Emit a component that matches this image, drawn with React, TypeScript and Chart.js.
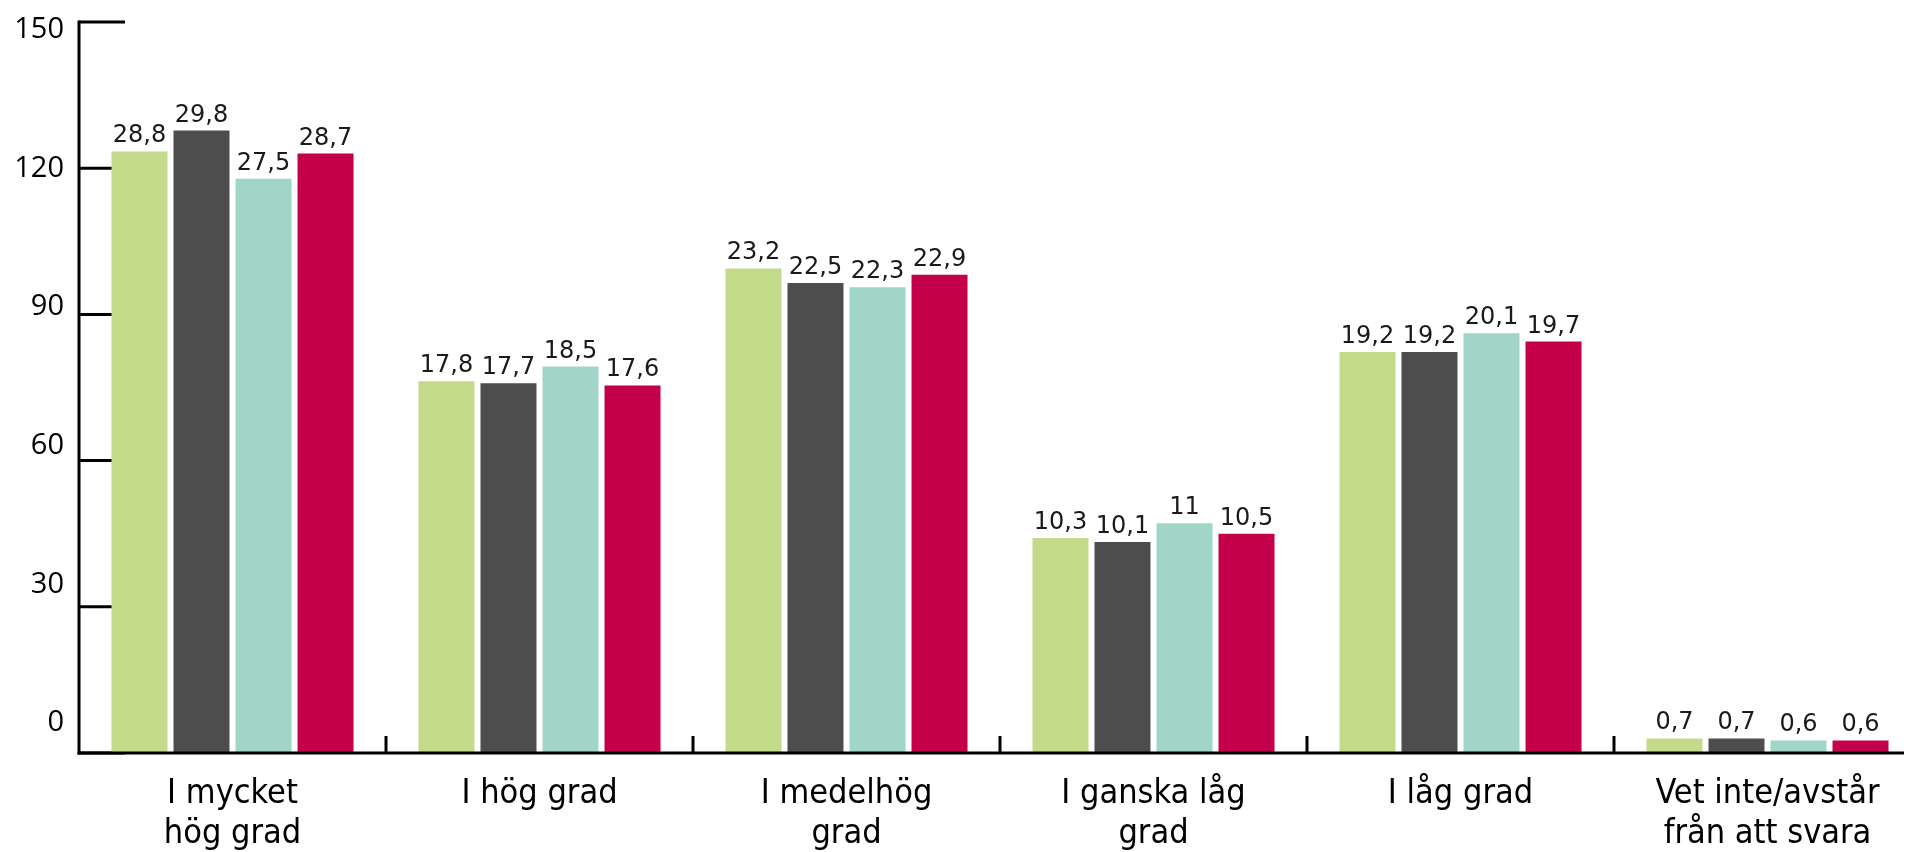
import React, { useEffect, useRef } from 'react';
import { Chart, registerables } from 'chart.js';

Chart.register(...registerables);

const CATEGORIES: string[][] = [
  ['I mycket', 'hög grad'],
  ['I hög grad'],
  ['I medelhög', 'grad'],
  ['I ganska låg', 'grad'],
  ['I låg grad'],
  ['Vet inte/avstår', 'från att svara'],
];
const SERIES_NAMES = ['Serie 1', 'Serie 2', 'Serie 3', 'Serie 4'];
const SERIES_1 = [28.8, 17.8, 23.2, 10.3, 19.2, 0.7];
const SERIES_2 = [29.8, 17.7, 22.5, 10.1, 19.2, 0.7];
const SERIES_3 = [27.5, 18.5, 22.3, 11, 20.1, 0.6];
const SERIES_4 = [28.7, 17.6, 22.9, 10.5, 19.7, 0.6];
const COLORS = ['#c2da89', '#4d4d4d', '#a0d5c8', '#c4004b'];
const Y_TICKS = [0, 30, 60, 90, 120, 150];

const NUM_FONT = '"DejaVu Sans", sans-serif';
const CAT_FONT = '"Liberation Sans Narrow", "DejaVu Sans Condensed", sans-serif';

const decoPlugin = {
  id: 'deco',
  beforeDatasetsDraw(chart: any) {
    const { ctx, chartArea } = chart;
    const yt = chart.scales.yTicks;
    ctx.save();
    ctx.strokeStyle = '#000';
    ctx.lineWidth = 3;
    Y_TICKS.forEach((v) => {
      const y = yt.getPixelForValue(v);
      ctx.beginPath();
      ctx.moveTo(chartArea.left, y);
      ctx.lineTo(chartArea.left + 46, y);
      ctx.stroke();
    });
    ctx.restore();
  },
  afterDatasetsDraw(chart: any) {
    const { ctx, chartArea } = chart;
    const xs = chart.scales.x;
    const yt = chart.scales.yTicks;
    ctx.save();
    // data labels
    ctx.fillStyle = '#1a1a1a';
    ctx.font = `24px ${NUM_FONT}`;
    ctx.textAlign = 'center';
    ctx.textBaseline = 'alphabetic';
    chart.data.datasets.forEach((ds: any, di: number) => {
      const meta = chart.getDatasetMeta(di);
      meta.data.forEach((bar: any, i: number) => {
        const label = String(ds.data[i]).replace('.', ',');
        ctx.fillText(label, bar.x, bar.y - 9);
      });
    });
    // axes
    ctx.strokeStyle = '#000';
    ctx.lineWidth = 3;
    const bottom = yt.getPixelForValue(0);
    const top = yt.getPixelForValue(150);
    ctx.beginPath();
    ctx.moveTo(chartArea.left, top - 1.5);
    ctx.lineTo(chartArea.left, bottom + 1.5);
    ctx.stroke();
    ctx.beginPath();
    ctx.moveTo(chartArea.left - 1.5, bottom);
    ctx.lineTo(1904, bottom);
    ctx.stroke();
    for (let i = 1; i < CATEGORIES.length; i++) {
      const x = (xs.getPixelForValue(i - 1) + xs.getPixelForValue(i)) / 2;
      ctx.beginPath();
      ctx.moveTo(x, bottom);
      ctx.lineTo(x, bottom - 17);
      ctx.stroke();
    }
    ctx.restore();
  },
};

export default function App() {
  const ref = useRef<HTMLCanvasElement | null>(null);
  useEffect(() => {
    if (!ref.current) return;
    const series = [SERIES_1, SERIES_2, SERIES_3, SERIES_4];
    const chart = new Chart(ref.current, {
      type: 'bar',
      data: {
        labels: CATEGORIES,
        datasets: series.map((d, i) => ({
          label: SERIES_NAMES[i],
          data: d,
          backgroundColor: COLORS[i],
          borderWidth: 0,
          yAxisID: 'y',
          categoryPercentage: 0.808,
          barPercentage: 0.903,
        })),
      },
      options: {
        responsive: true,
        maintainAspectRatio: false,
        animation: false,
        layout: { padding: { top: 22, left: 0, right: 0, bottom: 0 } },
        plugins: {
          legend: { display: false },
          tooltip: { enabled: false },
        },
        scales: {
          x: {
            type: 'category',
            grid: { display: false, drawTicks: false },
            border: { display: false },
            ticks: {
              color: '#000',
              padding: 21,
              maxRotation: 0,
              autoSkip: false,
              font: { family: CAT_FONT, size: 34, lineHeight: '40px' as any },
            },
            afterFit: (axis: any) => {
              axis.height = 99;
              axis.paddingLeft = 0;
              axis.paddingRight = 0;
            },
          },
          y: {
            display: false,
            min: 0,
            max: 35,
          },
          yTicks: {
            display: false,
            min: 0,
            max: 150,
          },
          yLabels: {
            position: 'left',
            min: -6.49,
            max: 151.73,
            grid: { display: false, drawTicks: false },
            border: { display: false },
            afterBuildTicks: (axis: any) => {
              axis.ticks = Y_TICKS.map((v) => ({ value: v }));
            },
            ticks: {
              color: '#000',
              padding: 15,
              font: { family: '"Open Sans", sans-serif', size: 29 },
            },
            afterFit: (axis: any) => {
              axis.width = 79;
              axis.paddingTop = 0;
              axis.paddingBottom = 0;
            },
          },
        },
      },
      plugins: [decoPlugin],
    });
    return () => chart.destroy();
  }, []);

  return (
    <div
      style={{
        position: 'fixed',
        left: 0,
        top: 0,
        width: 1910,
        height: 852,
        overflow: 'hidden',
        background: '#fff',
      }}
    >
      <div style={{ width: 1921, height: 852, position: 'relative' }}>
        <canvas ref={ref} />
      </div>
    </div>
  );
}
